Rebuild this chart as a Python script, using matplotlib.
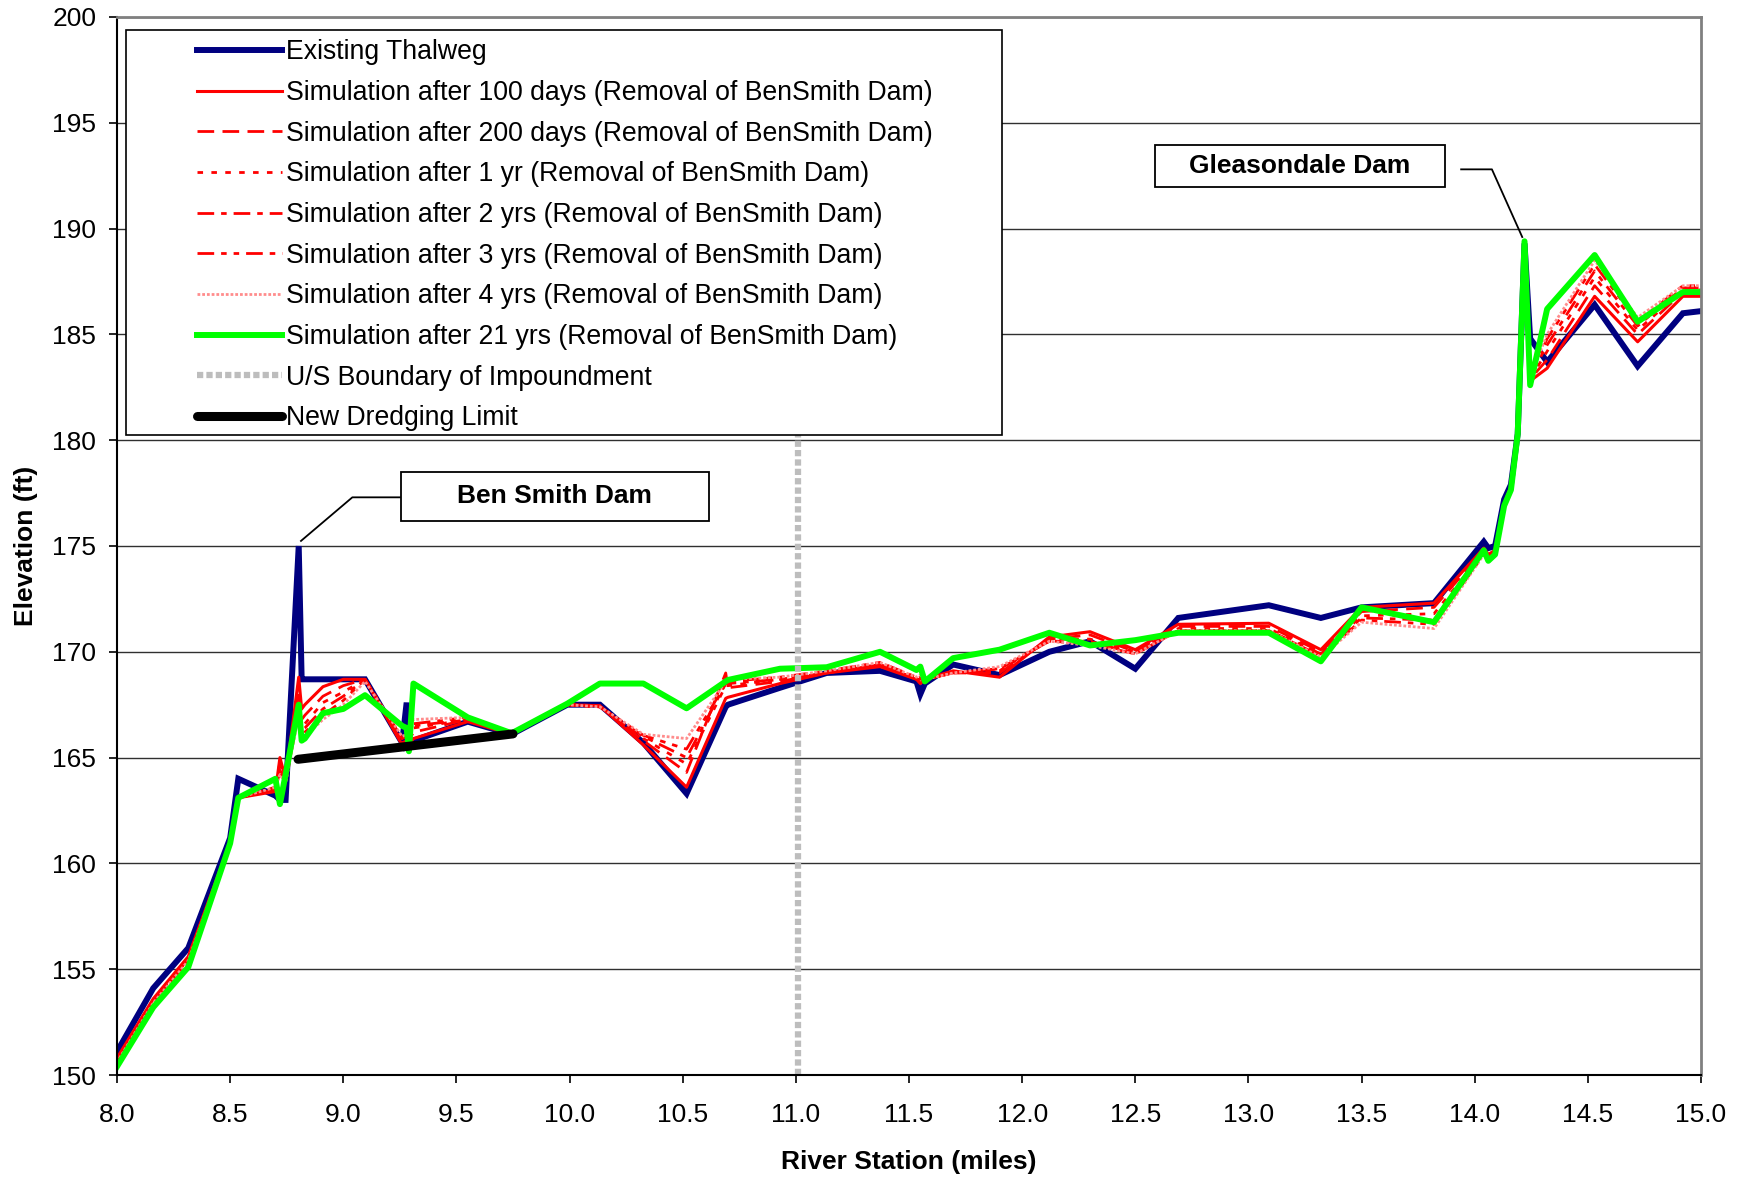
import numpy as np
import matplotlib
matplotlib.use('Agg')
import matplotlib.pyplot as plt
from matplotlib import patches
from matplotlib.ticker import FormatStrFormatter

plt.rcParams['font.family'] = ['Liberation Sans', 'DejaVu Sans']

#===Data (river station in miles, elevation in ft)===#
station = [8.00, 8.16, 8.315, 8.50, 8.536, 8.70, 8.72, 8.745, 8.803, 8.816,
           8.83, 8.91, 9.00, 9.096, 9.26, 9.28, 9.29, 9.31, 9.55, 9.744,
           9.99, 10.134, 10.326, 10.517, 10.69, 10.70, 10.93, 11.136, 11.372, 11.533,
           11.55, 11.57, 11.695, 11.90, 12.12, 12.30, 12.50, 12.69, 13.09, 13.32,
           13.50, 13.82, 14.04, 14.06, 14.09, 14.13, 14.16, 14.19, 14.22, 14.245,
           14.32, 14.53, 14.72, 14.92, 15.00]

thalweg = [151.1, 154.1, 156.0, 161.2, 164.0, 163.2, 163.0, 163.0, 175.0, 168.7,
           168.7, 168.7, 168.7, 168.7, 165.7, 167.6, 165.7, 165.8, 166.7, 166.1,
           167.5, 167.5, 165.7, 163.3, 167.4, 167.5, 168.3, 169.0, 169.1, 168.6,
           168.0, 168.5, 169.4, 168.9, 170.0, 170.5, 169.2, 171.6, 172.2, 171.6,
           172.1, 172.3, 175.2, 174.9, 175.0, 177.2, 177.9, 180.3, 189.3, 184.8,
           183.7, 186.4, 183.5, 186.0, 186.1]

sim_100d = [150.8, 153.6, 155.6, 161.0, 163.1, 163.4, 165.0, 164.0, 168.8, 167.3,
            167.5, 168.35, 168.7, 168.7, 165.6, 165.7, 165.6, 165.9, 166.7, 166.1,
            167.5, 167.45, 165.6, 163.6, 167.8, 167.85, 168.5, 169.0, 169.3, 168.7,
            168.5, 168.7, 169.1, 168.8, 170.7, 170.95, 170.1, 171.3, 171.35, 170.1,
            172.1, 172.3, 174.9, 174.6, 174.8, 177.0, 177.8, 180.3, 189.3, 182.8,
            183.4, 186.8, 184.65, 186.8, 186.8]

sim_200d = [150.7, 153.5, 155.5, 161.0, 163.1, 163.5, 164.8, 163.9, 168.2, 166.8,
            167.0, 167.9, 168.4, 168.7, 165.7, 165.8, 165.8, 166.2, 166.8, 166.1,
            167.5, 167.45, 165.8, 164.3, 169.0, 168.3, 168.6, 169.0, 169.4, 168.7,
            168.6, 168.7, 169.0, 169.0, 170.6, 170.8, 170.0, 171.2, 171.2, 170.0,
            171.9, 172.1, 174.8, 174.5, 174.7, 177.0, 177.8, 180.3, 189.3, 182.9,
            183.8, 187.3, 185.0, 187.0, 187.0]

sim_1yr = [150.7, 153.5, 155.5, 161.0, 163.1, 163.5, 164.6, 163.9, 167.8, 166.5,
           166.6, 167.6, 168.1, 168.7, 165.8, 165.9, 165.9, 166.4, 166.8, 166.1,
           167.5, 167.4, 165.9, 164.7, 168.4, 168.4, 168.7, 169.0, 169.4, 168.7,
           168.7, 168.7, 169.0, 169.1, 170.6, 170.6, 170.0, 171.1, 171.1, 169.9,
           171.7, 171.8, 174.7, 174.5, 174.7, 176.9, 177.7, 180.3, 189.3, 182.9,
           184.2, 187.7, 185.2, 187.1, 187.1]

sim_2yr = [150.7, 153.5, 155.5, 161.0, 163.1, 163.5, 164.4, 163.9, 167.5, 166.3,
           166.4, 167.3, 167.9, 168.7, 165.9, 166.0, 166.0, 166.5, 166.8, 166.1,
           167.5, 167.4, 166.0, 165.0, 168.5, 168.5, 168.7, 169.0, 169.4, 168.7,
           168.8, 168.7, 169.0, 169.2, 170.5, 170.5, 169.9, 171.0, 171.0, 169.9,
           171.6, 171.5, 174.7, 174.4, 174.6, 176.9, 177.7, 180.3, 189.3, 183.0,
           184.5, 188.0, 185.4, 187.2, 187.2]

sim_3yr = [150.6, 153.4, 155.4, 161.0, 163.1, 163.6, 164.3, 163.8, 167.2, 166.1,
           166.2, 167.0, 167.7, 168.7, 165.9, 166.0, 166.1, 166.6, 166.9, 166.1,
           167.5, 167.4, 166.05, 165.4, 168.5, 168.6, 168.8, 169.1, 169.5, 168.8,
           168.8, 168.7, 169.0, 169.2, 170.5, 170.4, 169.9, 171.0, 171.0, 169.8,
           171.5, 171.3, 174.6, 174.4, 174.6, 176.9, 177.7, 180.3, 189.3, 183.0,
           184.8, 188.3, 185.6, 187.3, 187.3]

sim_4yr = [150.6, 153.4, 155.4, 161.0, 163.1, 163.6, 164.2, 163.8, 167.0, 166.0,
           166.0, 166.8, 167.5, 168.6, 166.0, 166.1, 166.3, 166.8, 166.9, 166.1,
           167.5, 167.4, 166.1, 165.9, 168.6, 168.7, 168.8, 169.1, 169.5, 168.8,
           168.9, 168.7, 169.0, 169.3, 170.5, 170.3, 169.9, 171.0, 171.0, 169.75,
           171.4, 171.1, 174.6, 174.4, 174.6, 176.9, 177.7, 180.3, 189.3, 183.0,
           185.0, 188.5, 185.8, 187.3, 187.3]

sim_21yr = [150.4, 153.2, 155.1, 160.95, 163.1, 164.0, 162.8, 164.2, 167.5, 165.8,
            165.9, 167.1, 167.3, 167.95, 166.5, 166.4, 165.3, 168.5, 166.9, 166.15,
            167.55, 168.5, 168.5, 167.33, 168.6, 168.67, 169.2, 169.27, 170.0, 169.14,
            169.3, 168.6, 169.7, 170.1, 170.9, 170.3, 170.55, 170.9, 170.9, 169.55,
            172.1, 171.4, 174.8, 174.3, 174.6, 176.9, 177.65, 180.3, 189.4, 182.6,
            186.2, 188.75, 185.6, 187.0, 187.0]

dredge_station = [8.80, 9.75]
dredge_elev = [164.92, 166.12]

us_boundary = 11.01

x_ticks = np.arange(8.0, 15.01, 0.5)
y_ticks = np.arange(150, 201, 5)

#===Create Figure===#
fig = plt.figure(figsize=(17.43, 11.77), dpi=100)
ax = fig.add_axes([0.06713, 0.08666, 0.90878, 0.89890])
font_size = 19

red = '#ff0000'
ax.plot(station, thalweg, color='#000080', lw=4.3, label='Existing Thalweg', solid_joinstyle='miter')
ax.plot(station, sim_100d, color=red, lw=2.2, label='Simulation after 100 days (Removal of BenSmith Dam)')
ax.plot(station, sim_200d, color=red, lw=2.0, ls=(0, (6, 3)), label='Simulation after 200 days (Removal of BenSmith Dam)')
ax.plot(station, sim_1yr, color=red, lw=2.0, ls=(0, (2, 3)), label='Simulation after 1 yr (Removal of BenSmith Dam)')
ax.plot(station, sim_2yr, color=red, lw=2.0, ls=(0, (6, 2.5, 2, 2.5)), label='Simulation after 2 yrs (Removal of BenSmith Dam)')
ax.plot(station, sim_3yr, color=red, lw=2.0, ls=(0, (6, 2.5, 2, 2.5, 2, 2.5)), label='Simulation after 3 yrs (Removal of BenSmith Dam)')
ax.plot(station, sim_4yr, color='#ff8c8c', lw=2.0, ls=(0, (1, 0.7)), label='Simulation after 4 yrs (Removal of BenSmith Dam)')
ax.plot(station, sim_21yr, color='#00ff00', lw=4.3, label='Simulation after 21 yrs (Removal of BenSmith Dam)')
ax.plot([us_boundary, us_boundary], [150, 185], color='#bdbdbd', lw=4.5, ls=(0, (1, 0.5)), label='U/S Boundary of Impoundment')
ax.plot(dredge_station, dredge_elev, color='black', lw=6.5, solid_capstyle='round', label='New Dredging Limit')

#===Axes===#
ax.set_xlim(8.0, 15.0)
ax.set_ylim(150, 200)
ax.set_xticks(x_ticks)
ax.set_yticks(y_ticks)
ax.xaxis.set_major_formatter(FormatStrFormatter('%.1f'))
ax.tick_params(axis='both', direction='out', length=6, width=1.2, labelsize=font_size, pad=9)
ax.tick_params(axis='x', pad=14)
ax.yaxis.grid(True, color='#303030', lw=1.0)
ax.set_axisbelow(True)
for side in ['left', 'bottom']:
    ax.spines[side].set_color('black')
    ax.spines[side].set_linewidth(1.5)
for side in ['top', 'right']:
    ax.spines[side].set_color('#808080')
    ax.spines[side].set_linewidth(2.0)

ax.set_xlabel('River Station (miles)', fontsize=font_size, fontweight='bold', labelpad=17)
ax.set_ylabel('Elevation (ft)', fontsize=font_size, fontweight='bold', labelpad=10)

#===Dam Labels===#
ax.add_patch(patches.Rectangle((9.255, 176.18), 1.361, 2.32, facecolor='white',
                               edgecolor='black', lw=1.3, zorder=8))
ax.text(9.935, 177.34, 'Ben Smith Dam', fontsize=font_size, fontweight='bold',
        ha='center', va='center', zorder=9)
ax.plot([9.25, 9.04, 8.813], [177.3, 177.3, 175.24], color='black', lw=1.3, zorder=8)

ax.add_patch(patches.Rectangle((12.587, 191.97), 1.281, 1.98, facecolor='white',
                               edgecolor='black', lw=1.3, zorder=8))
ax.text(13.228, 192.96, 'Gleasondale Dam', fontsize=font_size, fontweight='bold',
        ha='center', va='center', zorder=9)
ax.plot([13.94, 14.076, 14.21], [192.8, 192.8, 189.6], color='black', lw=1.3, zorder=8)

#===Legend===#
ax.add_patch(patches.Rectangle((0.0057, 0.6049), 0.553, 0.3828, transform=ax.transAxes,
                               facecolor='white', edgecolor='black', lw=1.2, zorder=10))
leg = ax.legend(loc='upper left', bbox_to_anchor=(0.0505, 0.979), frameon=False,
                fontsize=19.2, handlelength=3.2, handletextpad=0.15, labelspacing=0.55,
                borderpad=0, borderaxespad=0)
leg.set_zorder(11)

#===Save Figure===#
plt.savefig('out.png', dpi=100)
